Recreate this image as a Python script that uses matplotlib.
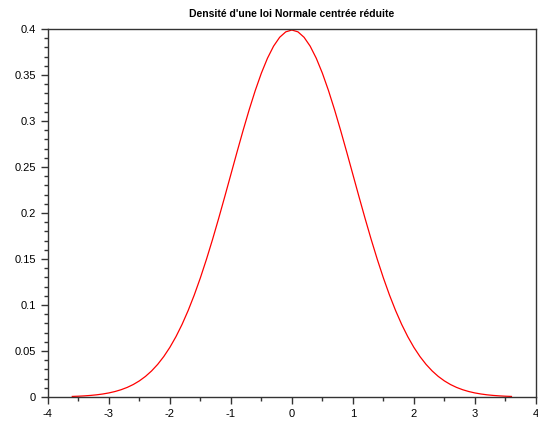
import matplotlib
matplotlib.use('Agg')
import matplotlib.pyplot as plt
from matplotlib.ticker import MultipleLocator, FuncFormatter

# valeurs
x = [-3.6, -3.5, -3.4, -3.3, -3.2, -3.1, -3.0, -2.9, -2.8, -2.7, -2.6, -2.5,
     -2.4, -2.3, -2.2, -2.1, -2.0, -1.9, -1.8, -1.7, -1.6, -1.5, -1.4, -1.3,
     -1.2, -1.1, -1.0, -0.9, -0.8, -0.7, -0.6, -0.5, -0.4, -0.3, -0.2, -0.1,
     0.0, 0.1, 0.2, 0.3, 0.4, 0.5, 0.6, 0.7, 0.8, 0.9, 1.0, 1.1, 1.2, 1.3,
     1.4, 1.5, 1.6, 1.7, 1.8, 1.9, 2.0, 2.1, 2.2, 2.3, 2.4, 2.5, 2.6, 2.7,
     2.8, 2.9, 3.0, 3.1, 3.2, 3.3, 3.4, 3.5, 3.6]
y = [0.00061, 0.00087, 0.00123, 0.00172, 0.00238, 0.00327, 0.00443, 0.00595,
     0.00792, 0.01042, 0.01358, 0.01753, 0.02239, 0.02833, 0.03547, 0.04398,
     0.05399, 0.06562, 0.07895, 0.09405, 0.11092, 0.12952, 0.14973, 0.17137,
     0.19419, 0.21785, 0.24197, 0.26609, 0.28969, 0.31225, 0.33322, 0.35207,
     0.36827, 0.38139, 0.39104, 0.39695, 0.39894,
     0.39695, 0.39104, 0.38139, 0.36827, 0.35207, 0.33322, 0.31225, 0.28969,
     0.26609, 0.24197, 0.21785, 0.19419, 0.17137, 0.14973, 0.12952, 0.11092,
     0.09405, 0.07895, 0.06562, 0.05399, 0.04398, 0.03547, 0.02833, 0.02239,
     0.01753, 0.01358, 0.01042, 0.00792, 0.00595, 0.00443, 0.00327, 0.00238,
     0.00172, 0.00123, 0.00087, 0.00061]

plt.rcParams['font.family'] = ['Liberation Sans', 'DejaVu Sans']

fig = plt.figure(figsize=(5.38, 4.21), dpi=100)
ax = fig.add_axes([0.089, 0.057, 0.907, 0.874])

ax.plot(x, y, color='red', linewidth=0.9)

ax.set_xlim(-4, 4)
ax.set_ylim(0, 0.4)
ax.xaxis.set_major_locator(MultipleLocator(1))
ax.xaxis.set_minor_locator(MultipleLocator(0.5))
ax.yaxis.set_major_locator(MultipleLocator(0.05))
ax.yaxis.set_minor_locator(MultipleLocator(0.01))
ax.xaxis.set_major_formatter(FuncFormatter(lambda v, p: '%g' % v))
ax.yaxis.set_major_formatter(FuncFormatter(lambda v, p: '%g' % v))

for s in ax.spines.values():
    s.set_color('#333333')
    s.set_linewidth(1.0)

ax.tick_params(axis='both', which='major', direction='out', length=5,
               width=1, labelsize=8, colors='#333333', labelcolor='black')
ax.tick_params(axis='both', which='minor', direction='out', length=3,
               width=1, colors='#333333')
ax.tick_params(top=False, right=False, which='both')

ax.set_title("Densité d'une loi Normale centrée réduite", fontsize=7.5,
             fontweight='bold', pad=9)

fig.savefig('out.png', dpi=100)
